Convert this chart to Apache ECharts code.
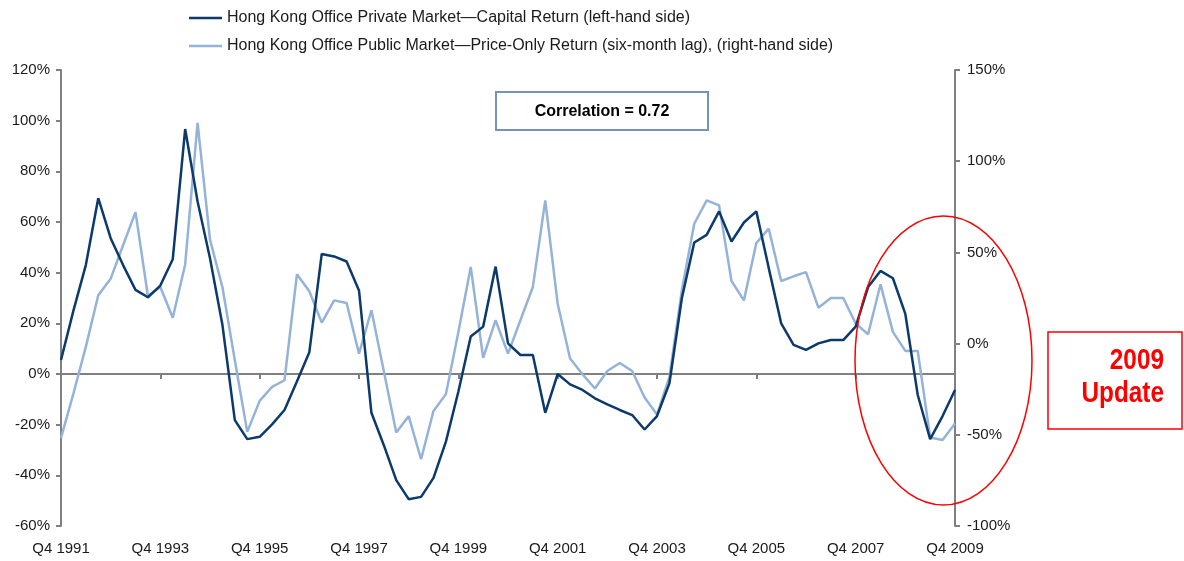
<!DOCTYPE html>
<html>
<head>
<meta charset="utf-8">
<script src="https://cdn.jsdelivr.net/npm/echarts@6/dist/echarts.min.js"></script>
<style>
  html, body { margin: 0; padding: 0; background: #fff; }
  #chart { width: 1184px; height: 561px; }
</style>
</head>
<body>
<div id="chart"></div>
<script>
// quarters Q4 1991 .. Q4 2009
var quarters = [];
quarters.push('Q4 1991');
for (var y = 1992; y <= 2009; y++) {
  for (var q = 1; q <= 4; q++) quarters.push('Q' + q + ' ' + y);
}

// private market capital return, % (left axis)
var privateReturn = [
  5.5, 25, 43, 69.4, 53.6, 43, 33.2, 30.3, 34.9, 45.3, 96.7, 68.1,
  45.7, 19.4, -18.2, -25.7, -24.8, -19.9, -14.2, -3, 8.6, 47.4, 46.4, 44.4,
  33, -15.3, -28.1, -41.9, -49.4, -48.5, -41, -26.7, -7, 14.8, 18.7, 42.4,
  12.1, 7.5, 7.5, -15.3, 0, -4.1, -6.3, -9.6, -12, -14.2, -16.2, -21.9,
  -16.6, -3.7, 29.9, 51.9, 54.9, 64.2, 52.3, 59.8, 64.2, 41.8, 20, 11.5,
  9.5, 12.1, 13.4, 13.4, 18.7, 34.3, 40.7, 37.8, 23.7, -8.3, -25.7, -16.6,
  -6.3
];

// public market price-only return, six-month lag, % (right axis)
var publicReturn = [
  -51.7, -27.4, -1.8, 26.5, 35.6, 53.9, 72.1, 26.1, 31, 14.2, 43.4, 121,
  57, 31, -9.1, -48.4, -31.4, -23.7, -20.1, 38, 28.7, 11.5, 23.7, 22.3,
  -5.5, 18.3, -15.2, -48.7, -39.8, -63.4, -36.9, -27.7, 6.2, 42, -7.8, 12.8,
  -5.5, 12.8, 31, 78.5, 21.9, -8.2, -16.8, -24.6, -15, -10.6, -15, -29.6,
  -38.9, -18.3, 29.2, 65.7, 78.5, 75.8, 34.3, 23.7, 55.1, 63, 34.3, 36.9,
  39.2, 19.7, 25, 25, 11, 5.1, 32.5, 6.4, -4, -4, -51.5, -52.9,
  -43.8
];

var seriesNames = [
  'Hong Kong Office Private Market\u2014Capital Return (left-hand side)',
  'Hong Kong Office Public Market\u2014Price-Only Return (six-month lag), (right-hand side)'
];

var font = 'Liberation Sans, Arial, sans-serif';
var axisGray = '#808080';
var textColor = '#1a1a1a';

var chart = echarts.init(document.getElementById('chart'));

var option = {
  animation: false,
  textStyle: { fontFamily: font },
  legend: {
    orient: 'vertical',
    left: 184,
    top: 5,
    itemWidth: 33,
    itemHeight: 14,
    itemGap: 12,
    icon: 'path://M0,0 L33,0 L33,2.5 L0,2.5 Z',
    data: seriesNames,
    textStyle: { fontFamily: font, fontSize: 16, color: textColor }
  },
  grid: { left: 61, right: 229, top: 70, bottom: 35 },
  xAxis: [
    {
      type: 'category',
      data: quarters,
      boundaryGap: false,
      axisLine: { onZero: true, lineStyle: { color: axisGray, width: 2 } },
      axisTick: { show: true, interval: 7, length: 5, lineStyle: { color: axisGray, width: 2 } },
      axisLabel: { show: false }
    },
    {
      type: 'category',
      data: quarters,
      boundaryGap: false,
      position: 'bottom',
      axisLine: { show: false, onZero: false },
      axisTick: { show: false },
      axisLabel: { interval: 7, margin: 15, fontSize: 15, color: textColor, fontFamily: font }
    }
  ],
  yAxis: [
    {
      type: 'value',
      min: -60, max: 120, interval: 20,
      splitLine: { show: false },
      axisLine: { show: true, lineStyle: { color: axisGray, width: 2 } },
      axisTick: { show: true, length: 5, lineStyle: { color: axisGray, width: 2 } },
      axisLabel: { formatter: '{value}%', fontSize: 15, color: textColor, margin: 11, fontFamily: font }
    },
    {
      type: 'value',
      min: -100, max: 150, interval: 50,
      position: 'right',
      splitLine: { show: false },
      axisLine: { show: true, onZero: false, lineStyle: { color: axisGray, width: 2 } },
      axisTick: { show: true, length: 5, lineStyle: { color: axisGray, width: 2 } },
      axisLabel: { formatter: '{value}%', fontSize: 15, color: textColor, margin: 12, fontFamily: font }
    }
  ],
  series: [
    {
      name: seriesNames[0],
      type: 'line',
      data: privateReturn,
      xAxisIndex: 0,
      yAxisIndex: 0,
      symbol: 'none',
      z: 3,
      lineStyle: { color: '#0b3a6b', width: 2.5 },
      itemStyle: { color: '#0b3a6b' }
    },
    {
      name: seriesNames[1],
      type: 'line',
      data: publicReturn,
      xAxisIndex: 0,
      yAxisIndex: 1,
      symbol: 'none',
      z: 2,
      lineStyle: { color: '#95b3d7', width: 2.5 },
      itemStyle: { color: '#95b3d7' }
    }
  ],
  graphic: [
    {
      type: 'rect',
      shape: { x: 496, y: 92, width: 212, height: 38 },
      style: { fill: '#fff', stroke: '#7393ba', lineWidth: 2 },
      z: 10
    },
    {
      type: 'text',
      x: 602, y: 112,
      style: {
        text: 'Correlation = 0.72',
        font: 'bold 16px ' + font,
        fill: '#000',
        textAlign: 'center',
        textVerticalAlign: 'middle'
      },
      z: 11
    },
    {
      type: 'ellipse',
      shape: { cx: 943.5, cy: 360.5, rx: 88.5, ry: 144.5 },
      style: { fill: null, stroke: '#ff0000', lineWidth: 1.5 },
      z: 10
    },
    {
      type: 'rect',
      shape: { x: 1048, y: 332, width: 134, height: 97 },
      style: { fill: null, stroke: '#ff0000', lineWidth: 1.5 },
      z: 10
    },
    {
      type: 'text',
      x: 1164, y: 361,
      scaleX: 0.84,
      style: {
        text: '2009',
        font: 'bold 29px ' + font,
        fill: '#ff0000',
        textAlign: 'right',
        textVerticalAlign: 'middle'
      },
      z: 11
    },
    {
      type: 'text',
      x: 1164, y: 394,
      scaleX: 0.84,
      style: {
        text: 'Update',
        font: 'bold 29px ' + font,
        fill: '#ff0000',
        textAlign: 'right',
        textVerticalAlign: 'middle'
      },
      z: 11
    }
  ]
};

chart.setOption(option);
</script>
</body>
</html>
